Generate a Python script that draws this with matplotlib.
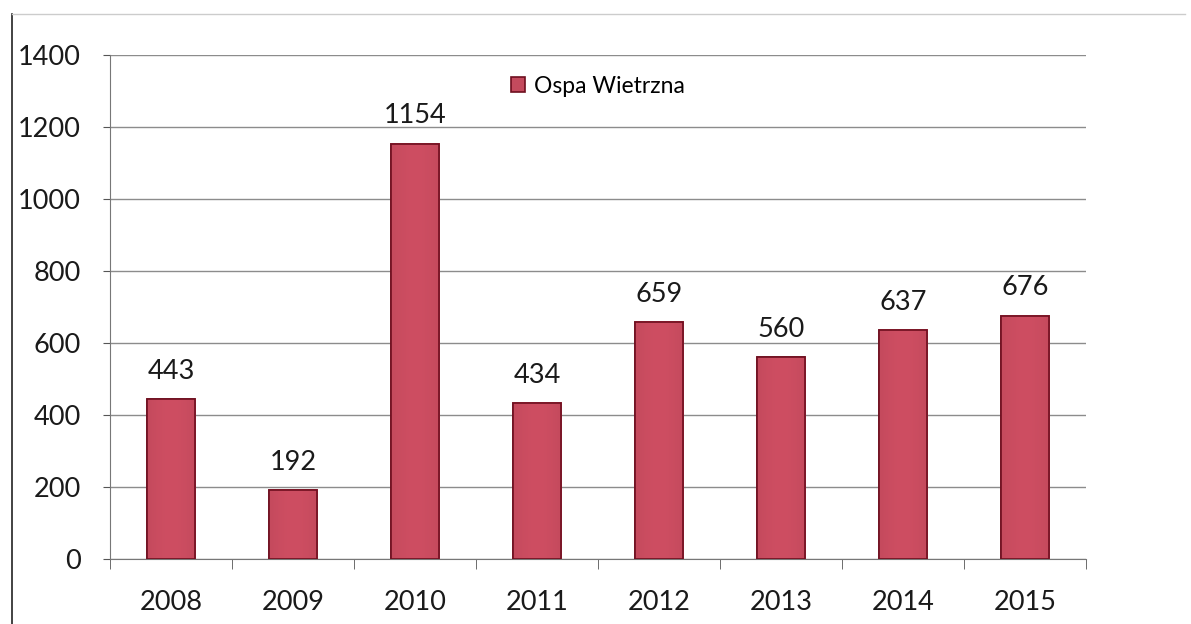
import matplotlib.pyplot as plt
from matplotlib.lines import Line2D
import numpy as np

years = ['2008', '2009', '2010', '2011', '2012', '2013', '2014', '2015']
cases = [443, 192, 1154, 434, 659, 560, 637, 676]
series_name = 'Ospa Wietrzna'

plt.rcParams['font.family'] = ['Lato', 'DejaVu Sans']

fig = plt.figure(figsize=(11.91, 6.24), dpi=100)
ax = fig.add_axes([0.0924, 0.1042, 0.8194, 0.8077])

x = np.arange(len(years))
bars = ax.bar(x, cases, width=0.4, color='#c44a5d', edgecolor='#6e0f1f',
              linewidth=1.2, label=series_name, zorder=3)

# horizontal shading inside each bar
grad = np.linspace(0, 1, 64)
shade = 0.75 + 0.25 * np.sin(np.pi * grad)
cmap_img = np.zeros((1, 64, 3))
base = np.array([0xc4, 0x4a, 0x5d]) / 255.0
for i in range(64):
    cmap_img[0, i] = np.clip(base * (0.85 + 0.2 * shade[i]), 0, 1)
for b in bars:
    x0, w, h = b.get_x(), b.get_width(), b.get_height()
    ax.imshow(cmap_img, extent=[x0, x0 + w, 0, h], aspect='auto', zorder=3.5,
              interpolation='bilinear')
    ax.add_patch(plt.Rectangle((x0, 0), w, h, fill=False, edgecolor='#6e0f1f',
                               linewidth=1.2, zorder=4))

for xi, v in zip(x, cases):
    ax.text(xi, v + 42, str(v), ha='center', va='bottom', fontsize=19.5, color='#1a1a1a')

ax.set_xlim(-0.5, len(years) - 0.5)
ax.set_ylim(0, 1400)
ax.set_yticks(range(0, 1401, 200))
ax.yaxis.grid(True, color='#8c8c8c', linewidth=1, zorder=0)
ax.set_axisbelow(True)

ax.set_xticks(x)
ax.set_xticklabels(years)
ax.set_xticks(np.arange(-0.5, len(years), 1), minor=True)
ax.tick_params(axis='x', which='major', length=0, pad=22, labelsize=19.5, colors='#1a1a1a')
ax.tick_params(axis='x', which='minor', length=7, direction='out', color='#555555')
ax.tick_params(axis='y', length=5, direction='out', color='#555555', pad=16,
               labelsize=19.5, colors='#1a1a1a')

for s in ['top', 'right']:
    ax.spines[s].set_visible(False)
ax.spines['left'].set_color('#777777')
ax.spines['bottom'].set_color('#777777')

leg = ax.legend(loc='upper left', bbox_to_anchor=(0.39, 1.0), frameon=False,
                fontsize=16.5, handlelength=0.6, handleheight=0.6, handletextpad=0.4)

# outer frame of the pasted chart
fig.add_artist(Line2D([0.0101, 0.0101], [0, 0.978], color='#222222', linewidth=1.2))
fig.add_artist(Line2D([0.0101, 0.995], [0.978, 0.978], color='#cccccc', linewidth=1))

fig.savefig('out.png', dpi=100)
